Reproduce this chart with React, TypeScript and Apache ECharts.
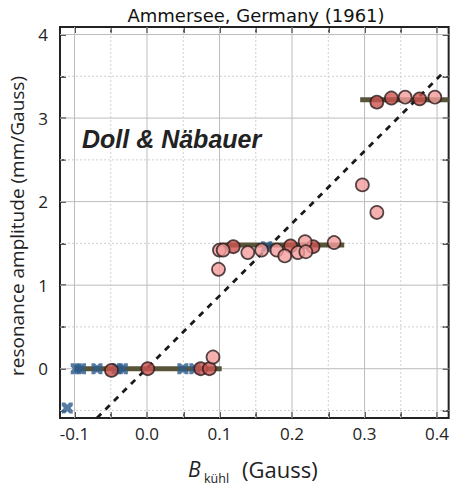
import React, { useEffect, useRef } from "react";
import * as echarts from "echarts";

// ---- data ----
const xMajorTicks = [-0.1, 0, 0.1, 0.2, 0.3, 0.4];
const xMinorTicks = [-0.05, 0.05, 0.15, 0.25, 0.35];
const yMajorTicks = [0, 1, 2, 3, 4];
const yMinorTicks = [-0.5, 0.5, 1.5, 2.5, 3.5];

// blue crosses
const crossPoints: [number, number][] = [
  [-0.11, -0.47],
  [-0.0977, 0], [-0.0917, 0], [-0.069, 0], [-0.041, 0], [-0.034, 0],
  [0.0495, 0], [0.066, 0],
  [0.165, 1.46],
];
// light pink circles
const lightCircles: [number, number][] = [
  [0.091, 0.14],
  [0.0986, 1.19], [0.0999, 1.42], [0.105, 1.42], [0.139, 1.39], [0.158, 1.42],
  [0.179, 1.42], [0.19, 1.35], [0.208, 1.39], [0.218, 1.52], [0.219, 1.4],
  [0.258, 1.51], [0.297, 2.2], [0.317, 1.87], [0.356, 3.25], [0.397, 3.25],
];
// darker red circles
const darkCircles: [number, number][] = [
  [-0.049, -0.02], [0.001, 0], [0.074, 0], [0.086, 0],
  [0.119, 1.46], [0.198, 1.47], [0.229, 1.46],
  [0.317, 3.19], [0.337, 3.24], [0.376, 3.23],
];
// plateaus
const plateau0: [number, number][] = [[-0.1, 0], [0.103, 0]];
const plateau1: [number, number][] = [[0.1, 1.48], [0.272, 1.48]];
const plateau2: [number, number][] = [[0.294, 3.22], [0.416, 3.22]];
// dashed linear fit
const fitLine: [number, number][] = [[-0.069, -0.59], [0.407, 3.53]];

const X_MIN = -0.12, X_MAX = 0.416, Y_MIN = -0.59, Y_MAX = 4.09;

const CROSS =
  "path://M0,0 L3,0 L5,2 L7,0 L10,0 L10,3 L8,5 L10,7 L10,10 L7,10 L5,8 L3,10 L0,10 L0,7 L2,5 L0,3 Z";

export default function App() {
  const ref = useRef<HTMLDivElement>(null);
  useEffect(() => {
    if (!ref.current) return;
    const chart = echarts.init(ref.current, undefined, { renderer: "svg" });
    const tickFont = { fontFamily: "Open Sans", fontSize: 17, color: "#222" };
    const allX = [...xMajorTicks, ...xMinorTicks].sort((a, b) => a - b);
    const allY = [...yMinorTicks, ...yMajorTicks].sort((a, b) => a - b);
    const tickStyle = { color: "#222", width: 1.5 };
    const baseX = {
      type: "value" as const, min: X_MIN, max: X_MAX,
      axisLine: { show: false, onZero: false }, splitLine: { show: false },
    };
    const baseY = {
      type: "value" as const, min: Y_MIN, max: Y_MAX,
      axisLine: { show: false, onZero: false }, splitLine: { show: false },
    };
    const seg = (d: [number, number][], style: any, z: number) => ({
      type: "line", data: d, symbol: "none", silent: true, z,
      lineStyle: style, emphasis: { disabled: true },
    });
    const majorGrid = { color: "#bcbcbc", width: 1, type: "solid" };
    const minorGrid = { color: "#d0d0d0", width: 1, type: [2, 2] };
    const gridSeries = [
      ...xMajorTicks.map((v) => seg([[v, Y_MIN], [v, Y_MAX]], majorGrid, 1)),
      ...yMajorTicks.map((v) => seg([[X_MIN, v], [X_MAX, v]], majorGrid, 1)),
      ...xMinorTicks.map((v) => seg([[v, Y_MIN], [v, Y_MAX]], minorGrid, 1)),
      ...yMinorTicks.map((v) => seg([[X_MIN, v], [X_MAX, v]], minorGrid, 1)),
    ];
    const plateauLine = { color: "#57543a", width: 5, type: "solid", cap: "butt" };
    chart.setOption({
      animation: false,
      grid: {
        left: 60, top: 27, width: 389, height: 391,
        show: true, borderColor: "#222", borderWidth: 2,
      },
      graphic: [
        {
          type: "text", x: 256, y: 15,
          style: {
            text: "Ammersee, Germany (1961)", textAlign: "center", textVerticalAlign: "middle",
            fontFamily: "DejaVu Sans", fontSize: 18, fill: "#111",
          },
        },
        {
          type: "text", x: 82, y: 139, z: 10,
          style: {
            text: "Doll & Näbauer", textAlign: "left", textVerticalAlign: "middle",
            fontFamily: "Liberation Sans", fontSize: 25, fontWeight: "bold", fontStyle: "italic", fill: "#222",
          },
        },
        {
          type: "text", x: 17, y: 226, rotation: Math.PI / 2,
          style: {
            text: "resonance amplitude (mm/Gauss)", textAlign: "center", textVerticalAlign: "middle",
            fontFamily: "Open Sans", fontSize: 19, fill: "#222",
          },
        },
        {
          type: "text", x: 188, y: 469,
          style: {
            text: "B", textAlign: "left", textVerticalAlign: "middle",
            fontFamily: "Open Sans", fontSize: 21, fontStyle: "italic", fill: "#222",
          },
        },
        {
          type: "text", x: 204, y: 478,
          style: {
            text: "kühl", textAlign: "left", textVerticalAlign: "middle",
            fontFamily: "Open Sans", fontSize: 12.5, fill: "#222",
          },
        },
        {
          type: "text", x: 242, y: 469,
          style: {
            text: "(Gauss)", textAlign: "left", textVerticalAlign: "middle",
            fontFamily: "Open Sans", fontSize: 22, fill: "#222",
          },
        },
      ],
      xAxis: [
        {
          ...baseX, position: "bottom",
          axisTick: { show: true, inside: true, length: 6, customValues: allX, lineStyle: tickStyle },
          axisLabel: {
            ...tickFont, margin: 7, customValues: xMajorTicks,
            formatter: (v: number) => v.toFixed(1),
          },
        },
        {
          ...baseX, position: "top",
          axisTick: { show: true, inside: true, length: 6, customValues: allX, lineStyle: tickStyle },
          axisLabel: { show: false },
        },
      ],
      yAxis: [
        {
          ...baseY, position: "left",
          axisTick: { show: true, inside: true, length: 6, customValues: allY, lineStyle: tickStyle },
          axisLabel: {
            ...tickFont, margin: 12, customValues: yMajorTicks,
            formatter: (v: number) => String(v),
          },
        },
        {
          ...baseY, position: "right",
          axisTick: { show: true, inside: true, length: 6, customValues: allY, lineStyle: tickStyle },
          axisLabel: { show: false },
        },
      ],
      series: [
        ...gridSeries,
        seg(plateau0, plateauLine, 3),
        seg(plateau1, plateauLine, 3),
        seg(plateau2, plateauLine, 3),
        seg(fitLine, { color: "#1a1a1a", width: 2.8, type: [6, 6] }, 4),
        {
          type: "scatter", data: crossPoints, symbol: CROSS, symbolSize: 11, z: 5,
          itemStyle: { color: "#2d5b8c" },
        },
        {
          type: "scatter", data: darkCircles, symbol: "circle", symbolSize: 13, z: 6,
          itemStyle: { color: "#cd5450", borderColor: "#2a1c1c", borderWidth: 1.7 },
        },
        {
          type: "scatter", data: lightCircles, symbol: "circle", symbolSize: 13, z: 6,
          itemStyle: { color: "#f49c9c", borderColor: "#2a1c1c", borderWidth: 1.7 },
        },
      ],
    });
    return () => chart.dispose();
  }, []);
  return <div ref={ref} style={{ width: 452, height: 487, position: "absolute", left: 0, top: 0 }} />;
}
